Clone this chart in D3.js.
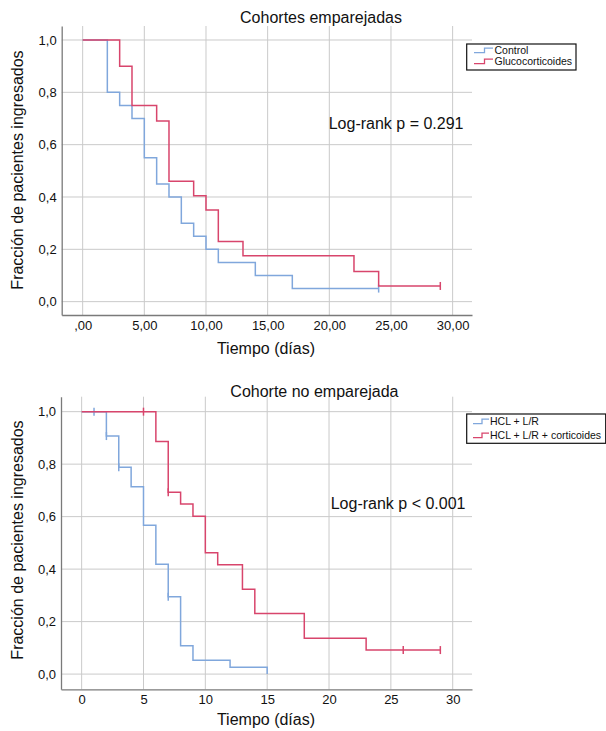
<!DOCTYPE html>
<html><head><meta charset="utf-8">
<script src="https://cdn.jsdelivr.net/npm/d3@7"></script>
<style>body{margin:0;background:#fff}svg{display:block}text{font-family:"Liberation Sans",Arial,sans-serif;fill:#111}</style>
</head><body>
<svg id="c" width="606" height="731"></svg>
<script>
// ---- data ----
const xTicks = [0, 5, 10, 15, 20, 25, 30];
const yTicks = [0, 0.2, 0.4, 0.6, 0.8, 1.0];
const xTickLabelsTop = [",00", "5,00", "10,00", "15,00", "20,00", "25,00", "30,00"];
const xTickLabelsBottom = ["0", "5", "10", "15", "20", "25", "30"];
const yTickLabels = ["0,0", "0,2", "0,4", "0,6", "0,8", "1,0"];

// Cohortes emparejadas
const controlTimes = [0, 2, 3, 4, 5, 6, 7, 8, 9, 10, 11, 14, 17, 24];
const controlSurv  = [1, 0.8, 0.75, 0.7, 0.55, 0.45, 0.4, 0.3, 0.25, 0.2, 0.15, 0.1, 0.05, 0.05];
const controlCensor = [24];
const glucoTimes = [0, 3, 4, 6, 7, 9, 10, 11, 13, 22, 24, 29];
const glucoSurv  = [1, 0.9, 0.75, 0.69, 0.46, 0.405, 0.35, 0.23, 0.175, 0.115, 0.06, 0.06];
const glucoCensor = [29];

// Cohorte no emparejada
const hclTimes = [0, 2, 3, 4, 5, 6, 7, 8, 9, 12, 15];
const hclSurv  = [1, 0.907, 0.788, 0.714, 0.567, 0.419, 0.295, 0.108, 0.053, 0.026, 0];
const hclCensor = [1, 2, 3, 7];
const corTimes = [0, 6, 7, 8, 9, 10, 11, 13, 14, 18, 23, 29];
const corSurv  = [1, 0.886, 0.693, 0.648, 0.601, 0.462, 0.417, 0.323, 0.231, 0.137, 0.0915, 0.0915];
const corCensor = [5, 7, 26, 29];

const BLUE = "#80a7dc", RED = "#d8456c";

const svg = d3.select("#c");

function panel(cfg) {
  const x = d3.scaleLinear().domain(cfg.xDom).range([cfg.left, cfg.right]);
  const y = d3.scaleLinear().domain(cfg.yDom).range([cfg.bottom, cfg.top]);
  const g = svg.append("g");
  // grid
  g.selectAll(".vg").data(xTicks).join("line")
    .attr("x1", d => x(d)).attr("x2", d => x(d))
    .attr("y1", cfg.top).attr("y2", cfg.bottom)
    .attr("stroke", "#cacaca").attr("stroke-width", 1);
  g.selectAll(".hg").data(yTicks).join("line")
    .attr("x1", cfg.left).attr("x2", cfg.right)
    .attr("y1", d => y(d)).attr("y2", d => y(d))
    .attr("stroke", "#cacaca").attr("stroke-width", 1);
  // axes
  const xa = g.append("g").attr("transform", `translate(0,${cfg.bottom})`)
    .call(d3.axisBottom(x).tickValues(xTicks).tickSize(0).tickPadding(cfg.xPad)
      .tickFormat((d, i) => cfg.xLabels[i]));
  xa.select(".domain").attr("stroke", "#7a7a7a").attr("stroke-width", 1.3);
  xa.selectAll("text").style("font-size", "13px").attr("fill", "#111");
  const ya = g.append("g").attr("transform", `translate(${cfg.left},0)`)
    .call(d3.axisLeft(y).tickValues(yTicks).tickSize(0).tickPadding(5)
      .tickFormat((d, i) => yTickLabels[i]));
  ya.select(".domain").attr("stroke", "#7a7a7a").attr("stroke-width", 1.3);
  ya.selectAll("text").style("font-size", "13px").attr("fill", "#111");

  const line = d3.line().x(d => x(d[0])).y(d => y(d[1])).curve(d3.curveStepAfter);
  const lookup = (times, surv, t) => { let v = surv[0]; times.forEach((tt, i) => { if (tt <= t) v = surv[i]; }); return v; };
  cfg.series.forEach(s => {
    g.append("path").datum(s.times.map((t, i) => [t, s.surv[i]]))
      .attr("d", line).attr("fill", "none").attr("stroke", s.color).attr("stroke-width", 1.5);
    g.selectAll(null).data(s.censor).join("line")
      .attr("x1", d => x(d)).attr("x2", d => x(d))
      .attr("y1", d => y(lookup(s.times, s.surv, d)) - 4)
      .attr("y2", d => y(lookup(s.times, s.surv, d)) + 4)
      .attr("stroke", s.color).attr("stroke-width", 1.5);
  });
  // title
  g.append("text").attr("x", cfg.titleX).attr("y", cfg.titleY).attr("text-anchor", "middle")
    .style("font-size", "16px").text(cfg.title);
  g.append("text").attr("x", cfg.xTitleX).attr("y", cfg.xTitleY).attr("text-anchor", "middle")
    .style("font-size", "16px").text("Tiempo (días)");
  g.append("text").attr("transform", `translate(23,${cfg.yTitleY}) rotate(-90)`).attr("text-anchor", "middle")
    .style("font-size", "16px").text("Fracción de pacientes ingresados");
  g.append("text").attr("x", cfg.lrX).attr("y", cfg.lrY).style("font-size", "16px").text(cfg.logrank);
  // legend
  const L = cfg.legend;
  g.append("rect").attr("x", L.x).attr("y", L.y).attr("width", L.w).attr("height", L.h)
    .attr("fill", "#fff").attr("stroke", "#111").attr("stroke-width", 1.2);
  cfg.series.forEach((s, i) => {
    const cy = L.rowY[i];
    g.append("path").attr("d", `M${L.ix0},${cy + 2}H${L.ix1}V${cy - 2.5}H${L.ix2}`)
      .attr("fill", "none").attr("stroke", s.color).attr("stroke-width", 1.3);
    g.append("text").attr("x", L.tx).attr("y", cy).attr("dy", "0.35em")
      .style("font-size", "10.5px").text(s.name);
  });
}

panel({
  xDom: [-1.7, 31.57], yDom: [-0.051, 1.0535],
  left: 61.7, right: 472, top: 26, bottom: 315, xPad: 6,
  xLabels: xTickLabelsTop,
  title: "Cohortes emparejadas", titleX: 321, titleY: 23,
  xTitleX: 266, xTitleY: 354, yTitleY: 170,
  logrank: "Log-rank p = 0.291", lrX: 328.7, lrY: 129,
  legend: { x: 466.7, y: 44, w: 109.3, h: 26, rowY: [50.7, 61.7], ix0: 474, ix1: 484.5, ix2: 493, tx: 494.5 },
  series: [
    { name: "Control", times: controlTimes, surv: controlSurv, censor: controlCensor, color: BLUE },
    { name: "Glucocorticoides", times: glucoTimes, surv: glucoSurv, censor: glucoCensor, color: RED }
  ]
});

panel({
  xDom: [-1.67, 31.56], yDom: [-0.058, 1.057],
  left: 61, right: 472, top: 396.7, bottom: 689.3, xPad: 5,
  xLabels: xTickLabelsBottom,
  title: "Cohorte no emparejada", titleX: 314.4, titleY: 397,
  xTitleX: 266, xTitleY: 725, yTitleY: 540,
  logrank: "Log-rank p < 0.001", lrX: 330.7, lrY: 509,
  legend: { x: 466.7, y: 414, w: 139, h: 29.3, rowY: [421.7, 435.7], ix0: 473, ix1: 482, ix2: 489, tx: 490 },
  series: [
    { name: "HCL + L/R", times: hclTimes, surv: hclSurv, censor: hclCensor, color: BLUE },
    { name: "HCL + L/R + corticoides", times: corTimes, surv: corSurv, censor: corCensor, color: RED }
  ]
});
</script>
</body></html>
